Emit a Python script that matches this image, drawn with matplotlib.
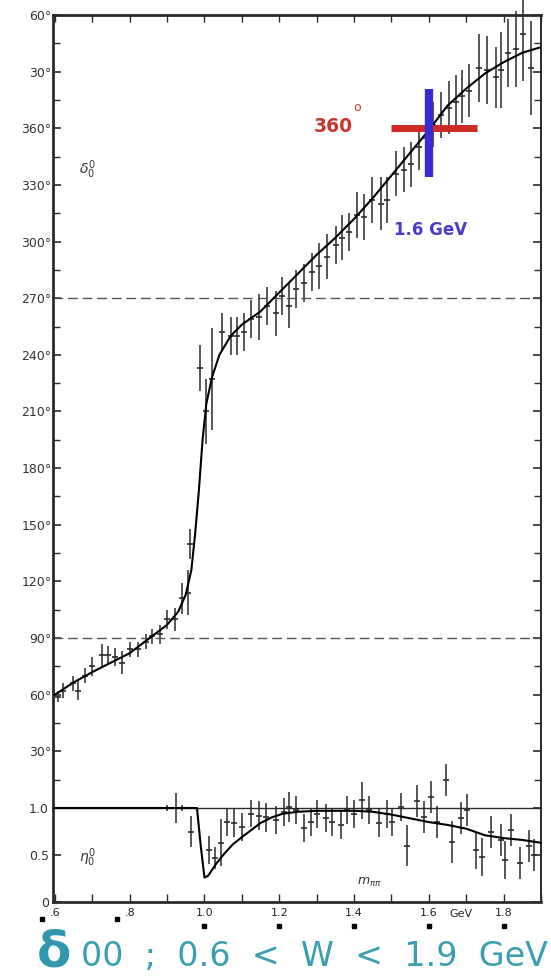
import matplotlib
matplotlib.use("Agg")
import matplotlib.pyplot as plt
from matplotlib.ticker import MultipleLocator
from matplotlib.transforms import ScaledTranslation

# phase shift delta_0^0 (degrees)
ph_mass = [0.608, 0.621, 0.648, 0.661, 0.680, 0.700, 0.725, 0.741, 0.760, 0.779,
           0.800, 0.821, 0.845, 0.861, 0.880, 0.901, 0.920, 0.941, 0.955, 0.962,
           0.987, 1.005, 1.021, 1.048, 1.072, 1.088, 1.107, 1.125, 1.147, 1.168,
           1.192, 1.208, 1.227, 1.245, 1.267, 1.288, 1.307, 1.328, 1.352, 1.368,
           1.387, 1.408, 1.427, 1.448, 1.472, 1.488, 1.512, 1.533, 1.552, 1.573,
           1.592, 1.612, 1.632, 1.653, 1.672, 1.688, 1.707, 1.733, 1.755, 1.779,
           1.792, 1.813, 1.832, 1.853, 1.872]
ph_deg = [59, 62, 66, 62, 70, 75, 81, 81, 80, 77,
          84, 84, 88, 91, 92, 100, 100, 111, 114, 140,
          233, 210, 227, 252, 250, 250, 252, 259, 260, 266,
          262, 271, 266, 275, 278, 284, 287, 292, 298, 302,
          305, 314, 313, 322, 320, 322, 336, 338, 341, 350,
          355, 362, 367, 371, 374, 377, 380, 392, 391, 387,
          391, 400, 402, 410, 392]
ph_err = [3, 4, 4, 5, 4, 5, 6, 5, 5, 6,
          4, 4, 4, 4, 5, 5, 6, 8, 12, 8,
          12, 17, 27, 10, 10, 10, 10, 10, 12, 10,
          12, 10, 12, 10, 10, 10, 12, 12, 10, 12,
          10, 12, 12, 12, 14, 12, 12, 12, 12, 12,
          12, 12, 12, 14, 14, 14, 14, 18, 18, 16,
          20, 18, 20, 25, 25]

curve_mass = [0.60, 0.65, 0.70, 0.75, 0.80, 0.85, 0.90, 0.93, 0.95, 0.965,
              0.975, 0.985, 0.995, 1.005, 1.02, 1.04, 1.07, 1.10, 1.15, 1.20,
              1.25, 1.30, 1.35, 1.40, 1.45, 1.50, 1.55, 1.60, 1.65, 1.70,
              1.75, 1.80, 1.85, 1.90]
curve_deg = [60, 66.5, 72, 77, 82, 89.5, 97, 104, 113, 126,
             145, 168, 195, 214, 228, 240, 250, 256, 263, 273,
             283, 293, 302, 312, 323, 335, 347, 359, 372, 381,
             389, 395, 400, 403]

# inelasticity eta_0^0
eta_mass = [0.901, 0.925, 0.941, 0.965, 1.013, 1.027, 1.045, 1.061, 1.080, 1.101,
            1.125, 1.147, 1.165, 1.192, 1.213, 1.227, 1.245, 1.267, 1.285, 1.301,
            1.325, 1.341, 1.365, 1.381, 1.400, 1.421, 1.440, 1.467, 1.488, 1.501,
            1.525, 1.541, 1.568, 1.587, 1.605, 1.621, 1.645, 1.661, 1.685, 1.701,
            1.725, 1.741, 1.765, 1.792, 1.805, 1.821, 1.845, 1.867, 1.880]
eta_val = [1.0, 1.0, 1.0, 0.75, 0.55, 0.47, 0.63, 0.85, 0.84, 0.80,
           0.94, 0.92, 0.90, 0.87, 0.96, 1.01, 0.98, 0.79, 0.85, 0.94,
           0.89, 0.85, 0.82, 0.98, 0.94, 1.08, 0.98, 0.84, 0.94, 0.85,
           1.01, 0.60, 1.07, 0.90, 1.12, 0.85, 1.30, 0.64, 0.89, 0.98,
           0.55, 0.48, 0.74, 0.66, 0.45, 0.77, 0.41, 0.60, 0.50]
eta_err = [0.03, 0.16, 0.03, 0.17, 0.15, 0.12, 0.25, 0.15, 0.15, 0.15,
           0.14, 0.15, 0.15, 0.15, 0.15, 0.16, 0.15, 0.15, 0.15, 0.15,
           0.15, 0.15, 0.15, 0.15, 0.15, 0.20, 0.15, 0.15, 0.15, 0.15,
           0.15, 0.22, 0.17, 0.17, 0.17, 0.17, 0.17, 0.22, 0.17, 0.17,
           0.20, 0.20, 0.17, 0.17, 0.20, 0.17, 0.17, 0.17, 0.17]

eta_curve_mass = [0.60, 0.98, 0.99, 1.00, 1.01, 1.03, 1.05, 1.075, 1.10, 1.12,
                  1.15, 1.18, 1.21, 1.25, 1.30, 1.35, 1.40, 1.45, 1.50, 1.55,
                  1.60, 1.65, 1.70, 1.75, 1.80, 1.85, 1.90]
eta_curve = [1.0, 1.0, 0.6, 0.26, 0.28, 0.40, 0.50, 0.61, 0.69, 0.75,
             0.84, 0.90, 0.94, 0.96, 0.97, 0.97, 0.97, 0.96, 0.93, 0.89,
             0.85, 0.82, 0.78, 0.71, 0.68, 0.66, 0.63]

x_ticks = [0.6, 0.8, 1.0, 1.2, 1.4, 1.6, 1.8]
x_labels = [".6", ".8", "1.0", "1.2", "1.4", "1.6", "1.8"]
mark_mass = 1.6
mark_deg = 360

caption = "00  ;  0.6  <  W  <  1.9  GeV"

ink = "#2b2b2b"
teal = "#3a9fae"

fig = plt.figure(figsize=(5.51, 9.8), dpi=100)
ax = fig.add_axes([53 / 551, 1 - 808 / 980, 488 / 551, 793 / 980])
axe = fig.add_axes([53 / 551, 1 - 902 / 980, 488 / 551, 94 / 980], sharex=ax)

# ---- phase panel
ax.plot(curve_mass, curve_deg, color="black", lw=1.5, zorder=3)
eb = ax.errorbar(ph_mass, ph_deg, yerr=ph_err, fmt="_", ms=5, mew=1.2,
                 color=ink, ecolor="#4a4a4a", elinewidth=1.3, capsize=0, zorder=2)
for art in eb.get_children():
    art.set_clip_on(False)
for level in (90, 270):
    ax.axhline(level, color="#555555", lw=1.0, dashes=(7, 3.5))

ax.set_xlim(0.595, 1.9)
ax.set_ylim(0, 420)
yt = list(range(30, 421, 30))
ax.set_yticks(yt)
ax.set_yticklabels([f"{v - 360 if v > 360 else v}°" for v in yt])
ax.yaxis.set_minor_locator(MultipleLocator(15))
ax.xaxis.set_minor_locator(MultipleLocator(0.1))
ax.tick_params(axis="both", which="both", direction="in", top=True, right=True,
               bottom=False, labelbottom=False, color=ink)
ax.tick_params(axis="y", which="major", length=6, width=1.2, labelsize=9,
               labelcolor="#333333", pad=1)
ax.tick_params(axis="y", which="minor", length=5, width=1.0)
ax.tick_params(axis="x", which="both", length=5, width=1.0)
ax.spines["bottom"].set_visible(False)
ax.spines["top"].set_linewidth(2.0)
ax.spines["left"].set_linewidth(2.0)
ax.spines["right"].set_linewidth(1.4)
for sp in ax.spines.values():
    sp.set_color(ink)

ax.text(0.686, 338, r"$\delta_0^0$", fontsize=10, color="#333333", ha="center", va="center")

# red / blue marker of 360 deg at 1.6 GeV
ax.plot([1.499, 1.728], [mark_deg, mark_deg], color="#cc2a22", lw=5,
        solid_capstyle="butt", zorder=4)
ax.plot([mark_mass, mark_mass], [334, 381], color="#3b2bd6", lw=6,
        solid_capstyle="butt", zorder=5)
ax.text(1.396, mark_deg + 1, "360", color="#c8352a", fontsize=13.5, fontweight="bold",
        ha="right", va="center")
ax.text(1.409, mark_deg + 11, "o", color="#c8352a", fontsize=9, ha="center", va="center")
ax.text(1.605, 306, "1.6 GeV", color="#4a3cc8", fontsize=12, fontweight="bold",
        ha="center", va="center")

# ---- inelasticity panel
axe.plot(eta_curve_mass, eta_curve, color="black", lw=1.5, zorder=3, clip_on=False)
eb2 = axe.errorbar(eta_mass, eta_val, yerr=eta_err, fmt="_", ms=5, mew=1.2,
                   color=ink, ecolor="#4a4a4a", elinewidth=1.3, capsize=0, zorder=2)
for art in eb2.get_children():
    art.set_clip_on(False)
axe.set_ylim(0, 1)
axe.set_yticks([0, 0.5, 1.0])
axe.set_yticklabels(["0", "0.5", "1.0"])
axe.set_xticks(x_ticks)
axe.set_xticklabels(x_labels)
axe.xaxis.set_minor_locator(MultipleLocator(0.1))
axe.tick_params(axis="both", which="both", direction="in", right=True, color=ink)
axe.tick_params(axis="y", which="major", length=6, width=1.2, labelsize=9,
                labelcolor="#333333", pad=3)
axe.tick_params(axis="x", which="both", length=6, width=1.0, labelsize=8,
                labelcolor="#222222", pad=4)
axe.spines["top"].set_linewidth(1.0)
axe.spines["bottom"].set_linewidth(2.0)
axe.spines["left"].set_linewidth(2.0)
axe.spines["right"].set_linewidth(1.4)
for sp in axe.spines.values():
    sp.set_color(ink)

axe.text(0.686, 0.47, r"$\eta_0^0$", fontsize=10, color="#333333", ha="center", va="center")
axe.text(1.44, 0.21, r"$m_{\pi\pi}$", fontsize=9, color="#333333", ha="center", va="center")
axe.text(1.685, -0.13, "GeV", fontsize=8, color="#222222", ha="center", va="center",
         transform=axe.get_xaxis_transform())

# little black squares under the scale figures (scan marks)
for t in x_ticks:
    off = (-13, -17) if t < 1 else (0, -24)
    axe.plot([t], [0], marker="s", ms=3.5, color="black", clip_on=False,
             transform=axe.get_xaxis_transform() + ScaledTranslation(
                 off[0] / 100, off[1] / 100, fig.dpi_scale_trans))

# caption
fig.text(54 / 551, 1 - 952 / 980, "δ", color="#2f98ad", fontsize=36, fontweight="bold",
         ha="center", va="center")
fig.text(81 / 551, 1 - 956 / 980, caption, color=teal, fontsize=24,
         ha="left", va="center")

fig.savefig("out.png", dpi=100)
